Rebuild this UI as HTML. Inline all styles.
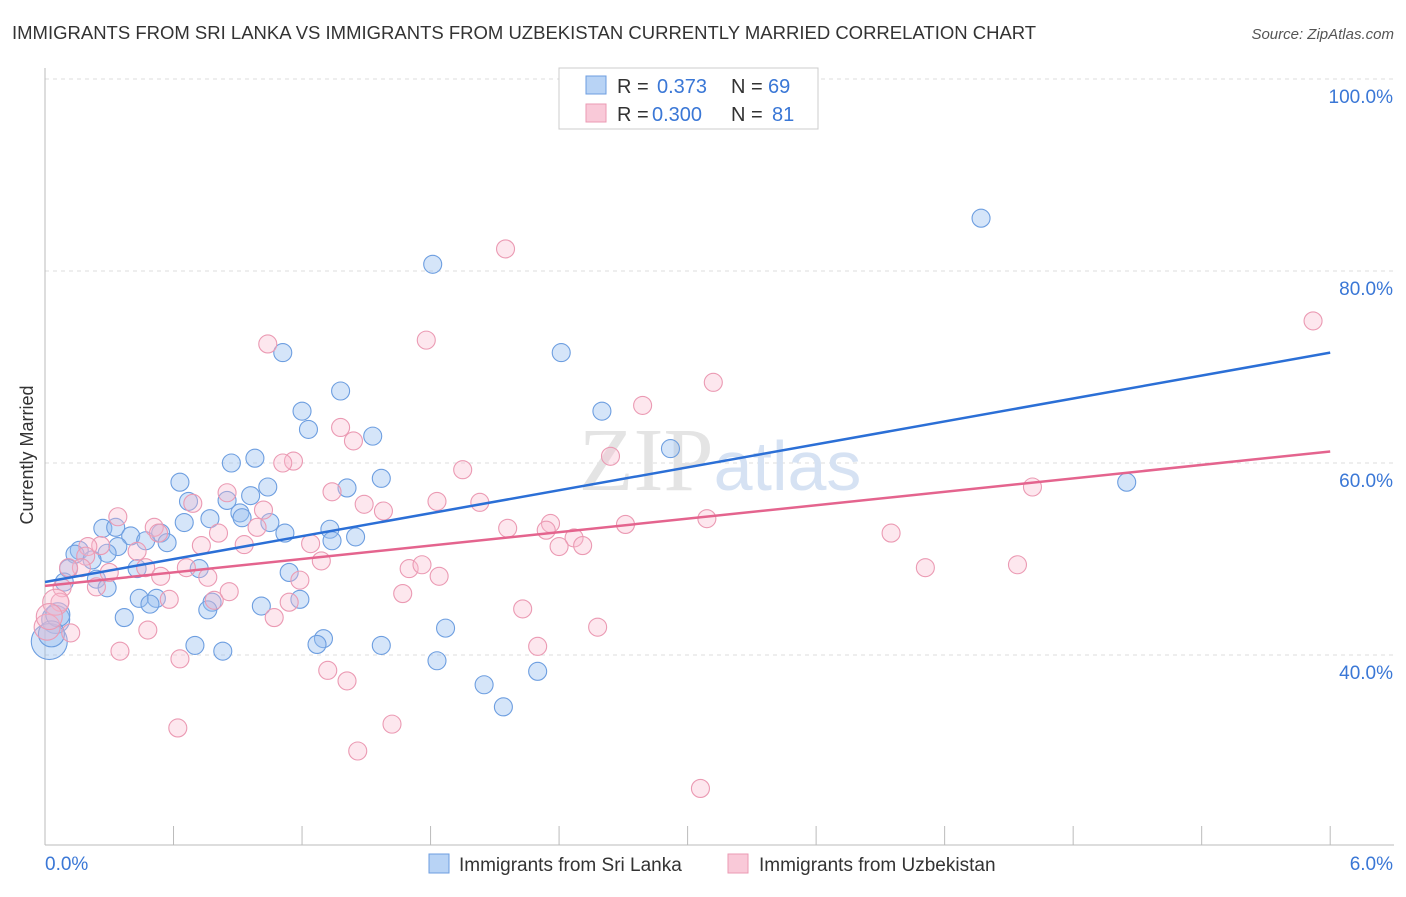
<!DOCTYPE html>
<html><head><meta charset="utf-8"><style>
body{margin:0;background:#fff;font-family:"Liberation Sans",sans-serif}
</style></head><body>
<svg id="chart" width="1406" height="892" xmlns="http://www.w3.org/2000/svg" font-family="Liberation Sans, sans-serif">
<text x="12" y="39" font-size="18.5" fill="#333">IMMIGRANTS FROM SRI LANKA VS IMMIGRANTS FROM UZBEKISTAN CURRENTLY MARRIED CORRELATION CHART</text>
<text x="1394" y="39" font-size="15" fill="#555" text-anchor="end" font-style="italic">Source: ZipAtlas.com</text>
<text transform="translate(33,455) rotate(-90)" font-size="18" fill="#333" text-anchor="middle">Currently Married</text>
<g id="grid"></g>
<text x="720" y="490" font-size="90" fill="#e4e4e4" text-anchor="middle" font-family="Liberation Serif, serif">ZIP<tspan fill="#d6e2f3" font-family="Liberation Sans, sans-serif" font-size="70">atlas</tspan></text>
<g id="pts"></g>
<g id="lines"></g>
<g>
<rect x="559" y="68" width="259" height="61" fill="#fff" stroke="#ccc"/>
<rect x="586" y="76" width="20" height="18" fill="#b8d3f5" stroke="#6d9ee0"/>
<rect x="586" y="104" width="20" height="18" fill="#f9c9d8" stroke="#eb9ab3"/>
<text x="617" y="93" font-size="20" fill="#333">R =</text>
<text x="657" y="93" font-size="20" fill="#3a77d6">0.373</text>
<text x="731" y="93" font-size="20" fill="#333">N =</text>
<text x="768" y="93" font-size="20" fill="#3a77d6">69</text>
<text x="617" y="121" font-size="20" fill="#333">R =</text>
<text x="652" y="121" font-size="20" fill="#3a77d6">0.300</text>
<text x="731" y="121" font-size="20" fill="#333">N =</text>
<text x="772" y="121" font-size="20" fill="#3a77d6">81</text>
</g>
<g>
<rect x="429" y="854" width="20" height="19" fill="#b8d3f5" stroke="#6d9ee0"/>
<text x="459" y="871" font-size="19" fill="#333">Immigrants from Sri Lanka</text>
<rect x="728" y="854" width="20" height="19" fill="#f9c9d8" stroke="#eb9ab3"/>
<text x="759" y="871" font-size="19" fill="#333">Immigrants from Uzbekistan</text>
</g>
</svg>
<script>
const yTicks=[40,60,80,100];
const yTickLabels=["40.0%","60.0%","80.0%","100.0%"];
const xTicks=[0,0.6,1.2,1.8,2.4,3.0,3.6,4.2,4.8,5.4,6.0];
const xLabelMin="0.0%", xLabelMax="6.0%";
const blueX=[4.37,1.81,1.11,2.41,1.38,1.20,2.60,1.23,1.53,2.92,0.87,0.98,0.63,1.57,5.05,1.41,1.04,0.67,0.96,0.85,0.91,0.77,0.92,1.05,0.65,0.27,0.33,0.40,0.54,1.33,1.12,1.45,1.34,0.47,0.57,0.34,0.16,0.29,0.14,0.22,0.11,0.72,0.43,1.14,0.24,0.09,0.29,1.19,0.44,0.52,0.49,0.78,0.76,1.01,0.37,1.87,1.30,1.27,0.70,0.83,1.57,1.83,2.30,2.05,2.14,0.05,0.02,0.06,0.03];
const blueY=[85.5,80.7,71.5,71.5,67.5,65.4,65.4,63.5,62.8,61.5,60.0,60.5,58.0,58.4,58.0,57.4,57.5,56.0,56.6,56.1,54.8,54.2,54.3,53.8,53.8,53.2,53.3,52.4,52.7,53.1,52.7,52.3,51.9,51.9,51.7,51.3,50.9,50.6,50.5,49.9,49.0,49.0,49.0,48.6,47.9,47.6,47.0,45.8,45.9,45.9,45.3,45.5,44.7,45.1,43.9,42.8,41.7,41.1,41.0,40.4,41.0,39.4,38.3,36.9,34.6,43.7,41.4,44.2,42.2];
const blueR=[9,9,9,9,9,9,9,9,9,9,9,9,9,9,9,9,9,9,9,9,9,9,9,9,9,9,9,9,9,9,9,9,9,9,9,9,9,9,9,9,9,9,9,9,9,9,9,9,9,9,9,9,9,9,9,9,9,9,9,9,9,9,9,9,9,14,18,12,13];
const pinkX=[2.15,5.92,1.78,1.04,3.12,2.79,1.38,1.44,1.16,1.11,2.64,1.95,1.34,0.85,4.61,0.69,1.83,1.49,2.03,1.02,1.58,0.81,3.09,2.71,2.36,2.16,0.51,0.99,2.34,0.53,3.95,0.34,0.26,2.47,1.24,2.40,2.51,0.93,0.43,0.73,0.20,0.19,0.17,1.29,1.70,1.76,4.11,4.54,0.11,0.30,0.66,0.47,0.54,0.76,1.84,1.19,0.24,0.08,0.07,0.58,0.79,0.86,1.14,1.67,2.23,1.07,0.48,2.58,0.12,0.35,0.63,2.30,1.32,1.41,0.62,1.62,1.46,3.06,0.01,0.05,0.02];
const pinkY=[82.3,74.8,72.8,72.4,68.4,66.0,63.7,62.3,60.2,60.0,60.7,59.3,57.0,56.9,57.5,55.8,56.0,55.7,55.9,55.1,55.0,52.7,54.2,53.6,53.7,53.2,53.3,53.3,53.0,52.7,52.7,54.4,51.4,52.2,51.6,51.3,51.4,51.5,50.8,51.4,51.3,50.3,49.1,49.8,49.0,49.4,49.1,49.4,49.1,48.6,49.1,49.1,48.2,48.1,48.2,47.8,47.1,47.0,45.5,45.8,45.7,46.6,45.5,46.4,44.8,43.9,42.6,42.9,42.3,40.4,39.6,40.9,38.4,37.3,32.4,32.8,30.0,26.1,42.9,45.5,44.0];
const blueTrend=[47.6,71.5];
const pinkTrend=[47.2,61.2];
const X=v=>45+v*214.2, Y=v=>79+(100-v)*9.6;
const NS="http://www.w3.org/2000/svg";
function mk(tag,attrs,parent){const e=document.createElementNS(NS,tag);for(const k in attrs)e.setAttribute(k,attrs[k]);parent.appendChild(e);return e;}
const grid=document.getElementById('grid');
yTicks.forEach((t,i)=>{
 const l=mk('line',{x1:45,x2:1394,y1:Y(t),y2:Y(t),stroke:'#ddd','stroke-dasharray':'4,4'},grid);
 
 
 const tx=mk('text',{x:1393,y:Y(t)+24,'font-size':19,fill:'#3a77d6','text-anchor':'end'},grid);
 tx.textContent=yTickLabels[i];
 
 
});
const ax=mk('line',{x1:45,x2:45,y1:68,y2:845,stroke:'#bbb'},grid);


const bx=mk('line',{x1:45,x2:1394,y1:845,y2:845,stroke:'#bbb'},grid);


xTicks.forEach(t=>{const l=mk('line',{x1:X(t),x2:X(t),y1:826,y2:845,stroke:'#bbb'},grid);
 
 });
const xl0=mk('text',{x:45,y:870,'font-size':19,fill:'#3a77d6'},grid);xl0.textContent=xLabelMin;


const xl1=mk('text',{x:1393,y:870,'font-size':19,fill:'#3a77d6','text-anchor':'end'},grid);xl1.textContent=xLabelMax;


const pts=document.getElementById('pts');
blueX.forEach((v,i)=>{const c=mk('circle',{cx:X(v),cy:Y(blueY[i]),r:blueR[i],fill:'rgba(150,190,240,0.4)',stroke:'#6d9ee0','stroke-width':1.1},pts);
 
 });
pinkX.forEach((v,i)=>{const c=mk('circle',{cx:X(v),cy:Y(pinkY[i]),r:i>=78?13:9,fill:'rgba(248,185,205,0.35)',stroke:'#eb9ab3','stroke-width':1.1},pts);
 
 });
const lines=document.getElementById('lines');
const bl=mk('line',{x1:X(0),y1:Y(blueTrend[0]),x2:X(6),y2:Y(blueTrend[1]),stroke:'#2b6fd6','stroke-width':2.5},lines);


const pl=mk('line',{x1:X(0),y1:Y(pinkTrend[0]),x2:X(6),y2:Y(pinkTrend[1]),stroke:'#e4648e','stroke-width':2.5},lines);


</script>
</body></html>
